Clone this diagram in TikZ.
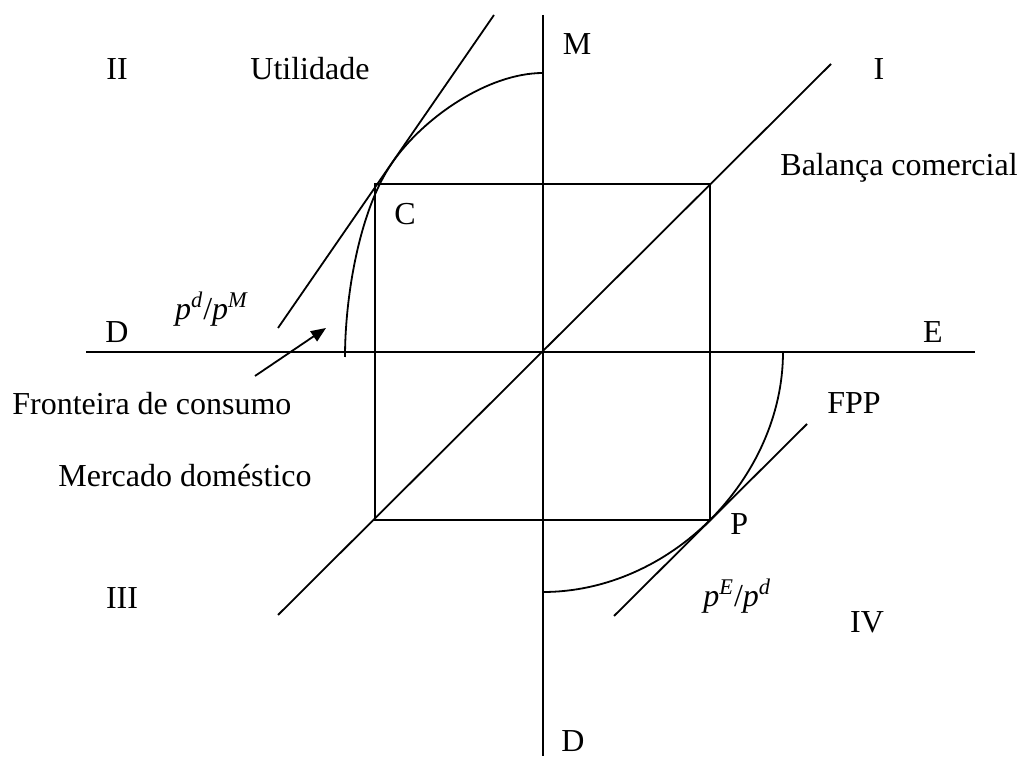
\documentclass[tikz,border=0pt]{standalone}
\usepackage{fontspec}
\setmainfont{Liberation Serif}
\usepackage{tikz}
\usetikzlibrary{arrows.meta}

\begin{document}
\begin{tikzpicture}[
    x=0.5pt,y=0.5pt,
    ln/.style={line width=0.9pt},
    lbl/.style={inner sep=0pt, font=\fontsize{16}{19}\selectfont},
    a/.style={-{Triangle[length=7.5pt,width=6pt]}, line width=0.9pt}
]
\useasboundingbox (0,0) rectangle (1018,756);

% Axes and quadrant diagonal
\coordinate (o) at (543,404);
\draw[ln] (86,404) -- (975,404);
\draw[ln] (543,741) -- (543,0);
\draw[ln] (278,141) -- (831,692);

% Trade box between C and P
\coordinate (C) at (375,572);
\coordinate (P) at (710,236);
\draw[ln] (C) rectangle (P);

% Consumption frontier and utility tangent
\coordinate (t) at (392,593);
\draw[ln] (543,683) to[out=180,in=55.4,looseness=0.8] (t)
    to[out=235.4,in=90,looseness=0.75] (345,399);
\draw[ln] (278,428) -- (494,741);

% Production frontier and price line
\draw[ln] (783,404) to[out=270,in=45,looseness=0.88] (P)
    to[out=225,in=0,looseness=0.88] (543,164);
\draw[ln] (614,140) -- (807,332);

% Labels
\node[lbl, anchor=base] (q2) at (117,676) {II};
\node[lbl, anchor=base west] (util) at (250,676) {Utilidade};
\node[lbl, anchor=base] (m) at (577,701) {M};
\node[lbl, anchor=base] (q1) at (879,676) {I};
\node[lbl, anchor=base west] (bal) at (780,580) {Balança comercial};
\node[lbl, anchor=base] (cl) at (405,531) {C};
\node[lbl, anchor=base] (pdm) at (212,436) {\textit{p}\textsuperscript{\textit{d}}/\textit{p}\textsuperscript{\textit{M}}};
\node[lbl, anchor=base] (dl) at (117,413) {D};
\node[lbl, anchor=base] (e) at (933,413) {E};
\node[lbl, anchor=base west] (front) at (12,341) {Fronteira de consumo};
\node[lbl, anchor=base west] (fpp) at (827,342) {FPP};
\node[lbl, anchor=base west] (merc) at (58,269) {Mercado doméstico};
\node[lbl, anchor=base west] (pl) at (730,221) {P};
\node[lbl, anchor=base west] (ped) at (703,149) {\textit{p}\textsuperscript{\textit{E}}/\textit{p}\textsuperscript{\textit{d}}};
\node[lbl, anchor=base] (q3) at (122,148) {III};
\node[lbl, anchor=base] (q4) at (867,124) {IV};
\node[lbl, anchor=base] (db) at (573,5) {D};

% Pointer to the consumption frontier
\coordinate (ptail) at (255,380);
\coordinate (phead) at (326,428);
\draw[a] (ptail) -- (phead);
\end{tikzpicture}
\end{document}
